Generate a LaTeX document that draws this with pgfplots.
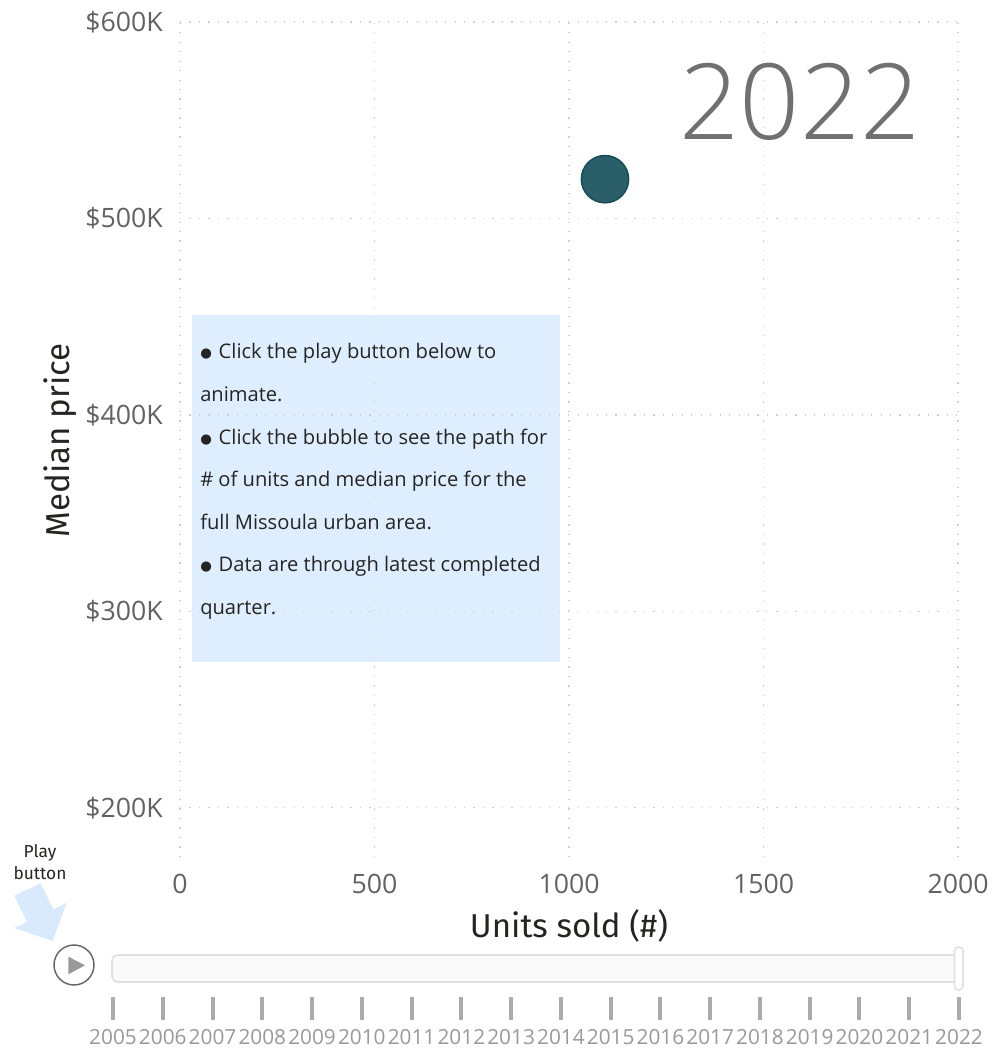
\documentclass[border=0pt]{standalone}
\usepackage{pgfplots}
\pgfplotsset{compat=1.18}
\usepackage{fontspec}
\setmainfont{Open Sans}
\newfontfamily\din{Fira Sans}
\newfontfamily\sym{DejaVu Sans}
\newfontfamily\lightf{Open Sans Light}
\newcommand{\bul}{\raisebox{1pt}{\sym\fontsize{10}{18}\selectfont ●}\hspace{1.2pt}}
\definecolor{gridc}{HTML}{CFCFCF}
\definecolor{tickc}{HTML}{626262}
\definecolor{boxc}{HTML}{DEEEFE}
\definecolor{arrowc}{HTML}{D8EAFC}
\definecolor{bubble}{HTML}{2A5F69}
\definecolor{bubbleedge}{HTML}{174F5B}
\definecolor{darktxt}{HTML}{252423}
\begin{document}
\begin{tikzpicture}
\useasboundingbox (0,0) rectangle (752.25pt,786.75pt);
\begin{scope}[x=0.75pt,y=-0.75pt,shift={(0,786.75pt)}]
\fill[boxc] (192,315) rectangle (560,662);
\end{scope}
\begin{axis}[
  at={(135pt,144pt)}, anchor=south west,
  scale only axis, width=583.5pt, height=626.25pt,
  xmin=0, xmax=2000, ymin=175, ymax=600,
  clip=false,
  axis line style={draw=none},
  major tick style={draw=none},
  xtick={0,500,1000,1500,2000},
  xticklabels={0,500,1000,1500,2000},
  ytick={200,300,400,500,600},
  yticklabels={\$200K,\$300K,\$400K,\$500K,\$600K},
  grid=major,
  major grid style={gridc, line width=0.9pt, dash pattern=on 0.9pt off 6.2pt},
  tick label style={font=\fontsize{20}{24}\selectfont, text=tickc},
  xticklabel style={yshift=-9.5pt},
  yticklabel style={xshift=-9.5pt},
  xlabel={Units sold (\#)},
  ylabel={Median price},
  xlabel style={font=\din\fontsize{24.8}{28}\selectfont, text=darktxt, at={(axis description cs:0.5,-0.0826)}, anchor=center},
  ylabel style={font=\din\fontsize{24.8}{28}\selectfont, text=darktxt, at={(axis description cs:-0.154,0.499)}, anchor=center, rotate=0},
]
\addplot[only marks, mark=*, mark size=17.7pt, mark options={fill=bubble, draw=bubbleedge, line width=1.2pt}] coordinates {(1092.5,520)};
\end{axis}
\begin{axis}[
  at={(84.75pt,39pt)}, anchor=south west,
  scale only axis, width=634.5pt, height=1pt,
  xmin=2005, xmax=2022, ymin=0, ymax=1,
  axis line style={draw=none},
  xtick={2005,2006,2007,2008,2009,2010,2011,2012,2013,2014,2015,2016,2017,2018,2019,2020,2021,2022},
  xticklabels={2005,2006,2007,2008,2009,2010,2011,2012,2013,2014,2015,2016,2017,2018,2019,2020,2021,2022},
  ytick=\empty,
  xtick pos=bottom, tick align=outside,
  major tick length=17.5pt,
  major tick style={draw=black!33, line width=3pt},
  x tick label style={font=\fontsize{15.6}{18}\selectfont, text=black!40, yshift=-3.5pt},
]
\end{axis}
\begin{scope}[x=0.75pt,y=-0.75pt,shift={(0,786.75pt)}]
\node[font=\lightf\fontsize{79}{86}\selectfont, text=black!56, anchor=center] at (800,102) {2022};
\begin{scope}[font=\fontsize{15.1}{18}\selectfont, text=darktxt]
\node[anchor=base west,inner sep=0] at (200,358.5) {\bul\ Click the play button below to};
\node[anchor=base west,inner sep=0] at (200,401.5) {animate.};
\node[anchor=base west,inner sep=0] at (200,444.5) {\bul\ Click the bubble to see the path for};
\node[anchor=base west,inner sep=0] at (200,486.5) {\# of units and median price for the};
\node[anchor=base west,inner sep=0] at (200,529.5) {full Missoula urban area.};
\node[anchor=base west,inner sep=0] at (200,571.5) {\bul\ Data are through latest completed};
\node[anchor=base west,inner sep=0] at (200,614.5) {quarter.};
\end{scope}
\node[font=\din\fontsize{13}{15}\selectfont, text=darktxt] at (40,853) {Play};
\node[font=\din\fontsize{13}{15}\selectfont, text=darktxt] at (40,873) {button};
\fill[arrowc] (52.7,941) -- (14,928) -- (27,922) -- (14.3,895.7) -- (40.7,883.3) -- (53.3,909.3) -- (66.7,902.7) -- cycle;
\draw[black!60, line width=1.1pt] (74,965) circle (20);
\fill[black!40] (68.3,956.7) -- (68.3,974.3) -- (85,965.3) -- cycle;
\draw[draw=black!12, fill=black!2, line width=1.2pt, rounded corners=4pt] (112,955) rectangle (958,982);
\draw[draw=black!12, fill=white, line width=1.2pt, rounded corners=3pt] (954.5,947) rectangle (963,990);
\end{scope}
\end{tikzpicture}
\end{document}
